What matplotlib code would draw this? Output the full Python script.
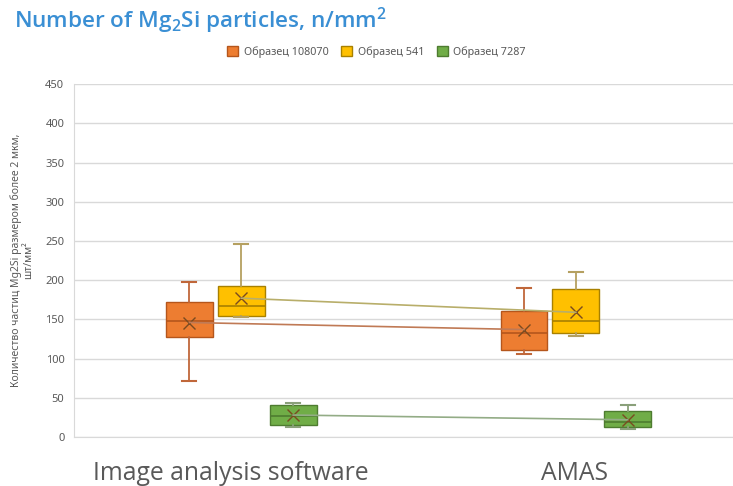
import matplotlib
matplotlib.use('Agg')
import matplotlib.pyplot as plt
from matplotlib.patches import Patch

# values
categories = ['Image analysis software', 'AMAS']
series = ['Образец 108070', 'Образец 541', 'Образец 7287']

whis_lo = [[72, 106], [153, 129], [13, 10]]
q1 = [[127, 111], [154, 132], [15, 13]]
median = [[148, 133], [167, 148], [27, 19]]
q3 = [[172, 161], [193, 189], [41, 33]]
whis_hi = [[198, 190], [246, 211], [44, 41]]
means = [[146, 137], [177, 159], [28, 22]]

fill = ['#ED7D31', '#FFC000', '#70AD47']
edge = ['#B5561C', '#A88000', '#4E7C30']
whisk = ['#C0673A', '#B5A060', '#8AA07A']
meanline = ['#C07A55', '#B8AE6A', '#93AC86']

plt.rcParams['font.family'] = ['Noto Sans', 'DejaVu Sans']
plt.rcParams['mathtext.fontset'] = 'custom'
plt.rcParams['mathtext.rm'] = 'Open Sans:semibold'
plt.rcParams['mathtext.default'] = 'regular'

fig = plt.figure(figsize=(7.33, 4.86), dpi=100)
ax = fig.add_axes([0.101, 0.1008, 0.899, 0.7262])

offset = 0.155
width = 0.14
for s in range(3):
    stats = []
    for c in range(2):
        stats.append({'whislo': whis_lo[s][c], 'q1': q1[s][c], 'med': median[s][c],
                      'q3': q3[s][c], 'whishi': whis_hi[s][c], 'mean': means[s][c]})
    pos = [c + (s - 1) * offset for c in range(2)]
    ax.bxp(stats, positions=pos, widths=width, patch_artist=True, showmeans=True,
           showfliers=False, capwidths=0.042,
           boxprops=dict(facecolor=fill[s], edgecolor=edge[s], linewidth=1.0),
           medianprops=dict(color=edge[s], linewidth=1.2),
           whiskerprops=dict(color=whisk[s], linewidth=1.3),
           capprops=dict(color=whisk[s], linewidth=1.5),
           meanprops=dict(marker='x', markeredgecolor='#7A4A20', markersize=8,
                          markeredgewidth=1.0), zorder=3)
    ax.plot(pos, means[s], color=meanline[s], linewidth=1.2, zorder=4)

ax.set_ylim(0, 450)
ax.set_yticks(range(0, 451, 50))
ax.set_xlim(-0.5, 1.47)
ax.set_xticks([-0.03, 0.995])
ax.set_xticklabels(categories, family=['Open Sans', 'DejaVu Sans'], fontsize=17.8, color='#595959')
ax.tick_params(axis='x', length=0, pad=17)
ax.tick_params(axis='y', length=0, labelsize=8, labelcolor='#595959', pad=7)
ax.grid(axis='y', color='#D9D9D9', linewidth=1)
ax.set_axisbelow(True)
for side in ['top', 'right']:
    ax.spines[side].set_visible(False)
ax.spines['left'].set_color('#D9D9D9')
ax.spines['bottom'].set_color('#D9D9D9')

ax.set_ylabel('Количество частиц Mg2Si размером более 2 мкм,\nшт/мм²', fontsize=7.5, color='#595959', labelpad=8)

fig.text(0.019, 0.958, 'Number of Mg$_2$Si particles, n/mm$^2$', fontsize=16.2,
         color='#3A8FD4', family=['Open Sans', 'DejaVu Sans'], weight='semibold',
         va='center', ha='left')

handles = [Patch(facecolor=fill[i], edgecolor=edge[i], label=series[i]) for i in range(3)]
fig.legend(handles=handles, loc='center', bbox_to_anchor=(0.514, 0.893), ncol=3,
           frameon=False, fontsize=7.8, handlelength=1.0, handleheight=1.0,
           columnspacing=1.2, handletextpad=0.5, labelcolor='#595959')

fig.savefig('out.png', dpi=100)
